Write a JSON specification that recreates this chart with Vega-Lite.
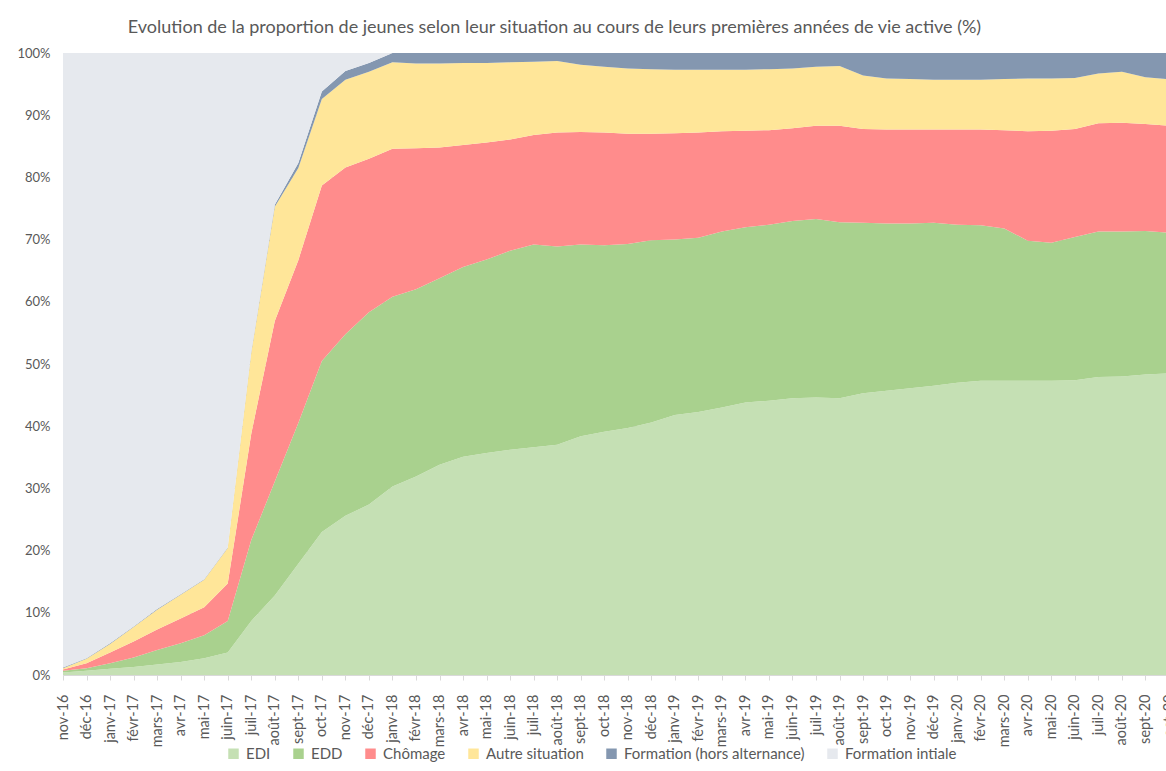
{
  "$schema": "https://vega.github.io/schema/vega-lite/v6.json",
  "width": 1103,
  "height": 622,
  "autosize": {"type": "none"},
  "padding": {"left": 63, "top": 53, "right": 0, "bottom": 96},
  "background": "white",
  "title": {
    "text": "Evolution de la proportion de jeunes selon leur situation au cours de leurs premières années de vie active (%)",
    "font": "Lato",
    "fontSize": 18,
    "fontWeight": "normal",
    "color": "#595959",
    "anchor": "middle",
    "dx": -60,
    "dy": 21,
    "baseline": "alphabetic",
    "offset": 17
  },
  "data": {
    "values": [
      {"mois": "nov-16", "EDI": 0.4, "EDD": 0.3, "Chômage": 0.2, "Autre situation": 0.2, "Formation (hors alternance)": 0.1, "Formation intiale": 98.8},
      {"mois": "déc-16", "EDI": 0.7, "EDD": 0.4, "Chômage": 0.8, "Autre situation": 0.7, "Formation (hors alternance)": 0.1, "Formation intiale": 97.3},
      {"mois": "janv-17", "EDI": 1.0, "EDD": 0.9, "Chômage": 1.7, "Autre situation": 1.4, "Formation (hors alternance)": 0.1, "Formation intiale": 94.9},
      {"mois": "févr-17", "EDI": 1.3, "EDD": 1.5, "Chômage": 2.6, "Autre situation": 2.3, "Formation (hors alternance)": 0.1, "Formation intiale": 92.2},
      {"mois": "mars-17", "EDI": 1.7, "EDD": 2.3, "Chômage": 3.3, "Autre situation": 3.2, "Formation (hors alternance)": 0.1, "Formation intiale": 89.4},
      {"mois": "avr-17", "EDI": 2.1, "EDD": 3.0, "Chômage": 4.0, "Autre situation": 3.8, "Formation (hors alternance)": 0.1, "Formation intiale": 87.0},
      {"mois": "mai-17", "EDI": 2.7, "EDD": 3.7, "Chômage": 4.5, "Autre situation": 4.4, "Formation (hors alternance)": 0.1, "Formation intiale": 84.6},
      {"mois": "juin-17", "EDI": 3.6, "EDD": 5.1, "Chômage": 6.0, "Autre situation": 5.7, "Formation (hors alternance)": 0.1, "Formation intiale": 79.5},
      {"mois": "juil-17", "EDI": 8.7, "EDD": 13.0, "Chômage": 17.1, "Autre situation": 13.0, "Formation (hors alternance)": 0.2, "Formation intiale": 48.0},
      {"mois": "août-17", "EDI": 12.8, "EDD": 18.3, "Chômage": 25.8, "Autre situation": 18.4, "Formation (hors alternance)": 0.3, "Formation intiale": 24.4},
      {"mois": "sept-17", "EDI": 17.9, "EDD": 22.6, "Chômage": 26.2, "Autre situation": 14.8, "Formation (hors alternance)": 0.8, "Formation intiale": 17.7},
      {"mois": "oct-17", "EDI": 23.0, "EDD": 27.5, "Chômage": 28.2, "Autre situation": 13.9, "Formation (hors alternance)": 1.2, "Formation intiale": 6.2},
      {"mois": "nov-17", "EDI": 25.6, "EDD": 29.2, "Chômage": 26.8, "Autre situation": 14.1, "Formation (hors alternance)": 1.4, "Formation intiale": 2.9},
      {"mois": "déc-17", "EDI": 27.4, "EDD": 30.9, "Chômage": 24.7, "Autre situation": 14.0, "Formation (hors alternance)": 1.4, "Formation intiale": 1.6},
      {"mois": "janv-18", "EDI": 30.3, "EDD": 30.5, "Chômage": 23.8, "Autre situation": 13.9, "Formation (hors alternance)": 1.5, "Formation intiale": 0},
      {"mois": "févr-18", "EDI": 31.9, "EDD": 30.1, "Chômage": 22.7, "Autre situation": 13.6, "Formation (hors alternance)": 1.7, "Formation intiale": 0},
      {"mois": "mars-18", "EDI": 33.8, "EDD": 30.0, "Chômage": 21.0, "Autre situation": 13.5, "Formation (hors alternance)": 1.7, "Formation intiale": 0},
      {"mois": "avr-18", "EDI": 35.1, "EDD": 30.5, "Chômage": 19.6, "Autre situation": 13.2, "Formation (hors alternance)": 1.6, "Formation intiale": 0},
      {"mois": "mai-18", "EDI": 35.7, "EDD": 31.1, "Chômage": 18.8, "Autre situation": 12.8, "Formation (hors alternance)": 1.6, "Formation intiale": 0},
      {"mois": "juin-18", "EDI": 36.2, "EDD": 32.0, "Chômage": 17.9, "Autre situation": 12.4, "Formation (hors alternance)": 1.5, "Formation intiale": 0},
      {"mois": "juil-18", "EDI": 36.6, "EDD": 32.6, "Chômage": 17.6, "Autre situation": 11.8, "Formation (hors alternance)": 1.4, "Formation intiale": 0},
      {"mois": "août-18", "EDI": 37.0, "EDD": 31.9, "Chômage": 18.3, "Autre situation": 11.5, "Formation (hors alternance)": 1.3, "Formation intiale": 0},
      {"mois": "sept-18", "EDI": 38.4, "EDD": 30.8, "Chômage": 18.1, "Autre situation": 10.8, "Formation (hors alternance)": 1.9, "Formation intiale": 0},
      {"mois": "oct-18", "EDI": 39.1, "EDD": 30.0, "Chômage": 18.1, "Autre situation": 10.6, "Formation (hors alternance)": 2.2, "Formation intiale": 0},
      {"mois": "nov-18", "EDI": 39.7, "EDD": 29.6, "Chômage": 17.7, "Autre situation": 10.5, "Formation (hors alternance)": 2.5, "Formation intiale": 0},
      {"mois": "déc-18", "EDI": 40.6, "EDD": 29.3, "Chômage": 17.1, "Autre situation": 10.4, "Formation (hors alternance)": 2.6, "Formation intiale": 0},
      {"mois": "janv-19", "EDI": 41.8, "EDD": 28.2, "Chômage": 17.1, "Autre situation": 10.2, "Formation (hors alternance)": 2.7, "Formation intiale": 0},
      {"mois": "févr-19", "EDI": 42.3, "EDD": 28.0, "Chômage": 16.9, "Autre situation": 10.1, "Formation (hors alternance)": 2.7, "Formation intiale": 0},
      {"mois": "mars-19", "EDI": 43.0, "EDD": 28.3, "Chômage": 16.1, "Autre situation": 9.9, "Formation (hors alternance)": 2.7, "Formation intiale": 0},
      {"mois": "avr-19", "EDI": 43.8, "EDD": 28.2, "Chômage": 15.5, "Autre situation": 9.8, "Formation (hors alternance)": 2.7, "Formation intiale": 0},
      {"mois": "mai-19", "EDI": 44.1, "EDD": 28.3, "Chômage": 15.2, "Autre situation": 9.8, "Formation (hors alternance)": 2.6, "Formation intiale": 0},
      {"mois": "juin-19", "EDI": 44.5, "EDD": 28.5, "Chômage": 14.9, "Autre situation": 9.6, "Formation (hors alternance)": 2.5, "Formation intiale": 0},
      {"mois": "juil-19", "EDI": 44.6, "EDD": 28.7, "Chômage": 15.0, "Autre situation": 9.5, "Formation (hors alternance)": 2.2, "Formation intiale": 0},
      {"mois": "août-19", "EDI": 44.5, "EDD": 28.3, "Chômage": 15.5, "Autre situation": 9.6, "Formation (hors alternance)": 2.1, "Formation intiale": 0},
      {"mois": "sept-19", "EDI": 45.3, "EDD": 27.4, "Chômage": 15.1, "Autre situation": 8.6, "Formation (hors alternance)": 3.6, "Formation intiale": 0},
      {"mois": "oct-19", "EDI": 45.7, "EDD": 26.9, "Chômage": 15.1, "Autre situation": 8.2, "Formation (hors alternance)": 4.1, "Formation intiale": 0},
      {"mois": "nov-19", "EDI": 46.1, "EDD": 26.5, "Chômage": 15.1, "Autre situation": 8.1, "Formation (hors alternance)": 4.2, "Formation intiale": 0},
      {"mois": "déc-19", "EDI": 46.5, "EDD": 26.2, "Chômage": 15.0, "Autre situation": 8.0, "Formation (hors alternance)": 4.3, "Formation intiale": 0},
      {"mois": "janv-20", "EDI": 47.0, "EDD": 25.4, "Chômage": 15.3, "Autre situation": 8.0, "Formation (hors alternance)": 4.3, "Formation intiale": 0},
      {"mois": "févr-20", "EDI": 47.3, "EDD": 25.0, "Chômage": 15.4, "Autre situation": 8.0, "Formation (hors alternance)": 4.3, "Formation intiale": 0},
      {"mois": "mars-20", "EDI": 47.3, "EDD": 24.5, "Chômage": 15.8, "Autre situation": 8.2, "Formation (hors alternance)": 4.2, "Formation intiale": 0},
      {"mois": "avr-20", "EDI": 47.3, "EDD": 22.5, "Chômage": 17.6, "Autre situation": 8.5, "Formation (hors alternance)": 4.1, "Formation intiale": 0},
      {"mois": "mai-20", "EDI": 47.3, "EDD": 22.2, "Chômage": 18.0, "Autre situation": 8.4, "Formation (hors alternance)": 4.1, "Formation intiale": 0},
      {"mois": "juin-20", "EDI": 47.4, "EDD": 23.0, "Chômage": 17.4, "Autre situation": 8.2, "Formation (hors alternance)": 4.0, "Formation intiale": 0},
      {"mois": "juil-20", "EDI": 47.9, "EDD": 23.4, "Chômage": 17.4, "Autre situation": 8.0, "Formation (hors alternance)": 3.3, "Formation intiale": 0},
      {"mois": "août-20", "EDI": 48.0, "EDD": 23.3, "Chômage": 17.5, "Autre situation": 8.2, "Formation (hors alternance)": 3.0, "Formation intiale": 0},
      {"mois": "sept-20", "EDI": 48.3, "EDD": 23.1, "Chômage": 17.2, "Autre situation": 7.5, "Formation (hors alternance)": 3.9, "Formation intiale": 0},
      {"mois": "oct-20", "EDI": 48.5, "EDD": 22.6, "Chômage": 17.2, "Autre situation": 7.5, "Formation (hors alternance)": 4.2, "Formation intiale": 0}
    ]
  },
  "transform": [
    {"fold": ["EDI", "EDD", "Chômage", "Autre situation", "Formation (hors alternance)", "Formation intiale"], "as": ["situation", "pct"]},
    {"calculate": "indexof(['EDI', 'EDD', 'Chômage', 'Autre situation', 'Formation (hors alternance)', 'Formation intiale'], datum.situation)", "as": "rang"}
  ],
  "mark": {"type": "area", "clip": true, "opacity": 1},
  "encoding": {
    "x": {
      "field": "mois",
      "type": "ordinal",
      "sort": null,
      "scale": {"type": "point", "padding": 0, "range": [0, 1106]},
      "axis": {
        "title": null,
        "labelAngle": -90,
        "labelFont": "Lato",
        "labelFontSize": 14.5,
        "labelColor": "#595959",
        "labelPadding": 14,
        "labelOverlap": false,
        "tickSize": 5,
        "tickColor": "#D9D9D9",
        "domainColor": "#D9D9D9",
        "grid": false
      }
    },
    "y": {
      "field": "pct",
      "type": "quantitative",
      "stack": "zero",
      "scale": {"domain": [0, 100], "nice": false},
      "axis": {
        "title": null,
        "values": [0, 10, 20, 30, 40, 50, 60, 70, 80, 90, 100],
        "labelExpr": "datum.value + '%'",
        "labelFont": "Lato",
        "labelFontSize": 13,
        "labelColor": "#595959",
        "labelPadding": 13,
        "ticks": false,
        "domain": false,
        "grid": true,
        "gridColor": "#D9D9D9"
      }
    },
    "order": {"field": "rang", "type": "quantitative", "sort": "ascending"},
    "color": {
      "field": "situation",
      "type": "nominal",
      "sort": ["EDI", "EDD", "Chômage", "Autre situation", "Formation (hors alternance)", "Formation intiale"],
      "scale": {
        "domain": ["EDI", "EDD", "Chômage", "Autre situation", "Formation (hors alternance)", "Formation intiale"],
        "range": ["#C5E0B4", "#A9D18E", "#FF8C8C", "#FFE699", "#8497B0", "#E6E9EE"]
      },
      "legend": {
        "title": null,
        "orient": "none",
        "legendX": 163,
        "legendY": 693,
        "direction": "horizontal",
        "symbolType": "square",
        "symbolSize": 110,
        "symbolStrokeWidth": 0,
        "labelFont": "Lato",
        "labelFontSize": 15,
        "labelLimit": 400,
        "labelColor": "#595959",
        "labelOffset": 5,
        "columnPadding": 20
      }
    }
  },
  "config": {"view": {"stroke": null}}
}
